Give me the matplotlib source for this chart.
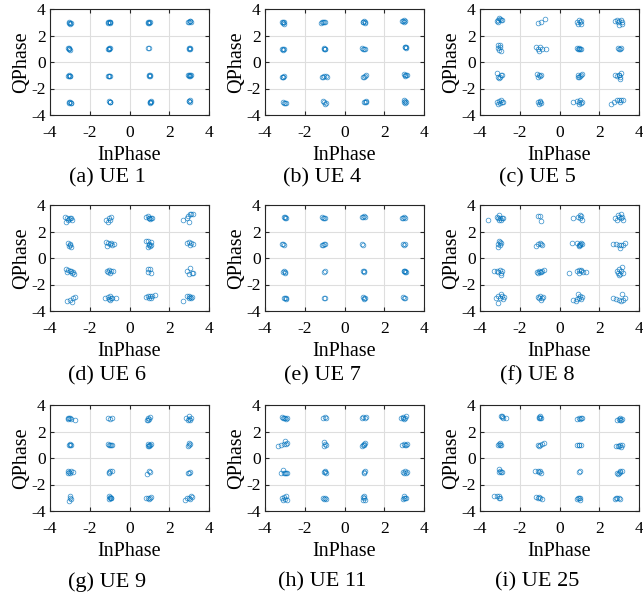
import matplotlib
matplotlib.use("Agg")
import matplotlib.pyplot as plt
import numpy as np

plt.rcParams['font.family'] = ['Liberation Serif', 'DejaVu Serif']
plt.rcParams['axes.unicode_minus'] = False

# 16-QAM ideal points, rows top to bottom, columns left to right
levels_q = [3, 1, -1, -3]
levels_i = [-3, -1, 1, 3]

# offsets (dI, dQ) of each received symbol from its ideal point
ue1 = [
    [(0, -0.05), (0.04, -0.02), (-0.04, -0.06), (0.02, -0.1), (-0.02, 0.0)],
    [(-0.05, 0.02), (0.0, 0.0), (-0.1, 0.0), (0.03, -0.02), (-0.06, -0.04), (0.02, 0.03)],
    [(-0.05, 0.0), (0.0, 0.02), (-0.08, -0.02), (-0.02, -0.05), (0.03, 0.03)],
    [(0.0, 0.05), (0.05, 0.08), (-0.04, 0.03), (0.08, 0.02), (0.02, 0.1)],
    [(-0.08, 0.02), (-0.02, -0.04), (0.0, -0.08), (-0.06, 0.05), (-0.03, 0.0)],
    [(-0.05, 0.0), (0.0, 0.02), (-0.08, -0.03), (-0.02, -0.05), (-0.04, 0.05)],
    [(-0.05, 0.05), (-0.03, 0.07)],
    [(0.0, 0.0), (0.03, -0.03), (-0.03, 0.02), (0.02, 0.04)],
    [(-0.05, -0.05), (0.0, -0.08), (-0.1, -0.02), (-0.03, 0.0), (0.02, -0.03)],
    [(-0.05, -0.05), (0.0, -0.02), (-0.08, -0.06), (-0.02, -0.08)],
    [(0.0, 0.0), (0.05, 0.02), (-0.04, -0.02), (0.02, -0.05)],
    [(0.0, 0.0), (0.05, -0.03), (-0.05, 0.02), (0.02, 0.05), (0.08, 0.0), (-0.02, -0.06)],
    [(0.0, -0.05), (0.05, -0.1), (-0.06, -0.03), (0.08, -0.08), (-0.02, -0.12)],
    [(0.0, 0.0), (-0.05, 0.03), (0.04, -0.02), (0.0, -0.05)],
    [(0.05, 0.0), (0.1, -0.03), (0.02, -0.05), (0.08, 0.03), (0.04, -0.08)],
    [(0.0, 0.05), (0.03, 0.0), (-0.03, 0.08), (0.05, 0.1)],
]

ue4 = [
    [(-0.1, 0.05), (-0.05, -0.1), (-0.15, 0.0), (-0.08, -0.05), (-0.02, 0.02)],
    [(-0.1, 0.0), (-0.05, 0.02), (-0.2, -0.05), (-0.15, 0.03), (0.0, 0.0)],
    [(-0.05, 0.05), (0.0, 0.1), (-0.08, 0.0), (0.05, -0.05), (0.02, 0.02)],
    [(-0.05, 0.1), (0.0, 0.05), (-0.1, 0.12), (0.05, 0.1), (0.0, 0.15)],
    [(-0.1, -0.05), (-0.05, -0.05), (-0.15, -0.03), (-0.08, -0.1)],
    [(-0.02, 0.0), (0.02, -0.05), (-0.05, 0.05), (0.0, -0.03)],
    [(-0.05, 0.0), (-0.1, 0.02), (0.02, 0.0), (-0.03, -0.03)],
    [(0.05, 0.1), (0.08, 0.05), (0.02, 0.15), (0.1, 0.12)],
    [(-0.1, -0.1), (-0.05, -0.05), (-0.15, -0.12), (-0.08, -0.15)],
    [(-0.1, -0.1), (0.05, -0.05), (-0.05, -0.08), (0.1, -0.1), (-0.15, -0.12)],
    [(0.05, -0.05), (0.0, -0.1), (0.1, 0.0), (-0.05, -0.12)],
    [(0.05, 0.05), (0.1, 0.0), (0.0, 0.1), (0.05, -0.05), (0.12, 0.05)],
    [(0.0, -0.1), (-0.1, -0.05), (0.05, -0.12), (-0.05, -0.1)],
    [(-0.02, -0.05), (-0.08, 0.02), (0.05, -0.1), (0.0, -0.15)],
    [(0.05, 0.0), (0.1, -0.05), (0.0, -0.05), (0.08, 0.03)],
    [(0.05, 0.05), (0.0, 0.1), (0.1, 0.0), (0.05, -0.1), (0.0, 0.0)],
]

ue5 = [
    [(-0.1, 0.2), (0.0, 0.25), (-0.15, 0.1), (0.05, 0.15), (-0.05, 0.3), (0.1, 0.2), (-0.1, 0.05)],
    [(-0.1, -0.05), (0.05, 0.0), (0.25, 0.25)],
    [(-0.1, 0.0), (0.0, 0.2), (0.1, 0.1), (-0.05, -0.1), (0.1, -0.1), (0.05, 0.05)],
    [(-0.2, 0.1), (-0.1, 0.15), (0.0, 0.1), (0.15, 0.05), (0.0, -0.2), (0.1, 0.15), (-0.05, 0.0), (0.15, -0.1)],
    [(-0.1, 0.3), (0.0, 0.25), (-0.1, 0.05), (0.0, 0.1), (0.05, -0.2), (-0.05, -0.1)],
    [(-0.2, 0.1), (-0.1, 0.0), (0.1, 0.0), (0.3, 0.0), (-0.05, -0.15), (0.0, 0.1)],
    [(-0.1, 0.05), (0.0, 0.05), (0.1, 0.0), (0.05, -0.05), (-0.05, 0.0), (0.0, -0.05)],
    [(-0.05, 0.05), (0.05, 0.0), (0.1, 0.05), (0.0, -0.05)],
    [(-0.15, 0.15), (-0.1, -0.1), (0.0, -0.15), (0.05, 0.0), (-0.05, -0.2), (0.1, 0.05)],
    [(-0.15, 0.1), (-0.05, 0.05), (0.0, -0.05), (-0.1, -0.1), (0.05, 0.0)],
    [(-0.05, 0.0), (0.0, -0.1), (0.1, 0.05), (0.05, -0.05), (-0.05, -0.1), (0.15, 0.1)],
    [(-0.2, 0.0), (-0.1, -0.05), (0.0, 0.05), (0.05, -0.15), (0.1, 0.15), (0.05, -0.3), (0.0, 0.0)],
    [(-0.15, -0.05), (-0.05, 0.05), (0.0, -0.1), (0.1, 0.0), (-0.1, -0.2), (0.05, 0.15), (0.15, -0.05)],
    [(-0.1, -0.05), (0.0, 0.05), (0.05, -0.1), (-0.05, -0.15), (0.0, 0.0)],
    [(-0.3, 0.0), (-0.1, 0.05), (0.0, -0.05), (0.05, 0.1), (0.15, 0.0), (0.0, -0.15), (0.1, -0.1)],
    [(-0.4, -0.15), (-0.25, -0.05), (-0.1, 0.1), (0.0, 0.15), (0.1, 0.1), (0.2, 0.15), (0.05, 0.0)],
]

ue6 = [
    [(-0.25, 0.1), (-0.15, 0.0), (-0.05, -0.05), (0.05, 0.0), (0.1, -0.1), (-0.2, -0.25), (0.0, 0.05), (-0.1, -0.15)],
    [(-0.2, -0.1), (-0.05, 0.0), (0.0, -0.15), (-0.1, -0.25), (0.05, 0.1)],
    [(-0.15, 0.1), (0.0, 0.05), (0.1, 0.0), (0.05, -0.05), (0.15, 0.0), (0.0, 0.0), (-0.05, 0.15)],
    [(-0.3, -0.1), (-0.05, 0.15), (0.05, 0.3), (0.1, 0.35), (0.2, 0.35), (0.0, -0.25), (-0.1, 0.05)],
    [(-0.1, 0.1), (0.0, 0.0), (-0.05, -0.1), (0.05, -0.15), (0.0, 0.05)],
    [(-0.2, 0.2), (-0.1, 0.1), (0.0, 0.05), (0.1, 0.0), (0.2, 0.05), (-0.15, -0.1), (0.05, 0.15)],
    [(-0.15, 0.3), (-0.05, 0.25), (0.0, 0.05), (0.1, 0.2), (0.05, -0.1), (-0.05, -0.2), (0.1, 0.0), (0.0, -0.05)],
    [(-0.1, 0.1), (0.0, 0.2), (0.1, 0.1), (0.2, 0.05), (0.05, 0.0)],
    [(-0.2, 0.15), (-0.1, 0.1), (0.0, 0.0), (0.1, -0.1), (0.2, -0.2), (-0.15, -0.05), (0.05, 0.05), (0.15, -0.05)],
    [(-0.15, 0.0), (-0.05, 0.1), (0.05, 0.0), (0.15, 0.05), (0.0, -0.1), (-0.1, -0.05)],
    [(-0.05, 0.2), (0.05, 0.15), (0.1, -0.1), (-0.05, -0.05)],
    [(-0.1, 0.05), (0.05, 0.25), (0.15, -0.1), (0.0, -0.2), (0.2, -0.1)],
    [(0.0, -0.2), (0.1, -0.3), (0.15, 0.0), (0.25, 0.05), (-0.15, -0.25)],
    [(-0.25, 0.0), (-0.1, 0.05), (0.0, 0.1), (0.1, -0.05), (0.05, 0.0), (-0.05, -0.1), (0.3, -0.05), (0.0, -0.15)],
    [(-0.15, 0.05), (-0.05, 0.15), (0.05, 0.1), (0.15, 0.1), (0.3, 0.2), (0.0, 0.0), (0.1, -0.05)],
    [(-0.3, -0.25), (-0.1, 0.1), (0.0, 0.15), (0.05, 0.05), (0.1, -0.05), (0.0, -0.05), (0.15, 0.05)],
]

ue7 = [
    [(0.0, 0.07), (0.05, 0.05), (-0.05, 0.1), (0.0, 0.02)],
    [(-0.15, 0.1), (-0.05, 0.05), (-0.1, 0.0), (0.0, 0.03)],
    [(-0.1, 0.12), (0.0, 0.15), (-0.05, 0.08), (0.05, 0.12)],
    [(-0.1, 0.05), (0.0, 0.1), (-0.05, 0.0), (0.05, 0.05)],
    [(-0.1, 0.03), (-0.05, 0.0), (-0.12, 0.05)],
    [(-0.15, 0.0), (-0.05, 0.05), (-0.1, 0.0), (0.0, 0.05)],
    [(-0.1, 0.05), (-0.05, 0.0)],
    [(-0.05, 0.05), (0.0, 0.0), (0.05, 0.03)],
    [(-0.05, 0.0), (0.0, -0.1), (-0.1, -0.05), (0.02, -0.02)],
    [(-0.05, -0.02), (0.0, 0.0)],
    [(-0.05, 0.05), (0.0, 0.0), (-0.03, -0.05)],
    [(0.0, 0.0), (0.05, -0.05), (0.1, -0.03), (-0.03, 0.02), (0.05, 0.03)],
    [(0.0, 0.0), (0.05, -0.1), (-0.05, -0.05), (0.08, -0.02)],
    [(-0.05, 0.0), (0.0, -0.03)],
    [(-0.05, 0.05), (0.0, -0.05), (0.05, 0.0), (-0.02, -0.1)],
    [(0.0, 0.0), (0.05, -0.05), (-0.05, 0.02)],
]

ue8 = [
    [(-0.6, -0.1), (-0.15, 0.1), (-0.05, 0.25), (0.0, 0.05), (0.1, 0.0), (0.05, -0.1), (-0.1, 0.0), (0.15, 0.05), (-0.05, -0.15)],
    [(-0.1, 0.15), (0.0, 0.15), (0.05, -0.2)],
    [(-0.3, 0.0), (-0.05, 0.1), (0.05, 0.25), (0.1, 0.15), (0.15, -0.15), (0.05, 0.0)],
    [(-0.2, 0.0), (-0.05, 0.25), (0.1, 0.3), (0.0, 0.1), (0.1, 0.05), (0.2, -0.1), (-0.1, -0.1), (0.15, 0.1)],
    [(-0.05, 0.3), (0.0, 0.2), (-0.1, 0.05), (0.0, 0.0), (-0.1, -0.2), (0.05, 0.1)],
    [(-0.2, -0.1), (-0.1, 0.05), (0.05, 0.05), (0.1, 0.0), (0.0, 0.1)],
    [(-0.35, 0.1), (-0.1, 0.15), (0.0, 0.0), (0.05, 0.05), (0.1, 0.1), (0.0, -0.1), (0.15, 0.05), (0.05, -0.05)],
    [(-0.3, 0.05), (-0.15, 0.05), (0.0, 0.0), (0.1, -0.05), (0.2, 0.0), (0.3, 0.15), (0.05, -0.25)],
    [(-0.3, 0.0), (-0.15, 0.0), (0.0, 0.1), (0.1, 0.05), (0.05, -0.15), (0.05, -0.3), (-0.1, -0.05)],
    [(-0.15, -0.05), (-0.05, 0.0), (0.0, -0.05), (0.1, 0.0), (0.2, 0.1), (-0.1, -0.1), (0.05, -0.02)],
    [(-0.5, -0.1), (-0.1, 0.05), (0.0, 0.1), (0.1, 0.0), (0.2, -0.05), (0.35, -0.05), (0.0, -0.1), (0.1, 0.1)],
    [(-0.1, 0.0), (0.0, 0.2), (0.15, 0.35), (0.1, 0.05), (0.05, -0.2), (0.2, -0.1), (0.0, -0.3), (-0.05, -0.1)],
    [(-0.2, 0.0), (-0.1, 0.15), (0.05, 0.3), (0.1, 0.1), (0.15, -0.1), (0.0, -0.05), (-0.1, -0.4), (0.2, 0.05)],
    [(-0.1, 0.05), (0.0, 0.1), (0.1, -0.05), (0.05, -0.15), (-0.05, -0.05), (0.15, 0.05)],
    [(-0.3, -0.2), (-0.15, -0.25), (-0.05, 0.3), (0.05, 0.1), (0.15, 0.05), (0.1, -0.1), (0.0, -0.05), (-0.1, -0.1)],
    [(-0.3, -0.05), (-0.15, -0.1), (0.0, -0.2), (0.1, -0.25), (0.2, -0.2), (0.15, 0.3), (0.3, 0.0)],
]

ue9 = [
    [(-0.1, 0.05), (-0.05, 0.0), (0.0, 0.05), (0.05, -0.02), (0.25, -0.1), (-0.08, -0.05)],
    [(-0.1, 0.0), (0.0, -0.05), (0.1, 0.02)],
    [(-0.1, -0.1), (-0.05, 0.0), (0.05, 0.1), (0.0, -0.05), (-0.05, -0.15)],
    [(-0.15, 0.05), (0.0, 0.15), (0.05, -0.1), (0.1, 0.0), (0.0, -0.05), (-0.05, -0.15)],
    [(0.0, 0.05), (-0.05, 0.0), (0.05, 0.0), (0.0, -0.05)],
    [(-0.1, 0.05), (0.0, 0.0), (-0.05, -0.05), (0.1, -0.05), (0.05, 0.0)],
    [(-0.05, 0.05), (0.05, 0.0), (0.0, -0.1), (0.1, 0.05), (-0.05, -0.1), (0.0, 0.0)],
    [(0.0, 0.1), (0.05, 0.05), (-0.05, -0.1), (0.0, 0.0)],
    [(-0.1, 0.05), (-0.05, -0.05), (0.0, -0.1), (0.05, 0.0), (0.15, -0.05), (-0.1, -0.1)],
    [(-0.05, -0.05), (0.0, 0.0), (0.1, 0.0), (-0.05, -0.1)],
    [(-0.1, -0.2), (0.05, -0.05), (0.0, 0.0)],
    [(-0.05, -0.1), (0.05, -0.05), (0.0, -0.1)],
    [(0.0, 0.1), (0.05, -0.1), (-0.05, -0.25), (0.0, -0.05)],
    [(-0.05, 0.15), (0.0, 0.05), (0.05, -0.05), (-0.05, -0.1), (0.0, -0.05), (0.05, 0.0)],
    [(-0.15, -0.05), (-0.05, -0.05), (0.05, 0.0), (0.1, 0.05), (0.0, -0.1)],
    [(-0.2, -0.15), (-0.1, -0.05), (0.0, 0.0), (0.1, 0.1), (0.15, 0.05), (0.05, -0.1)],
]

ue11 = [
    [(-0.15, 0.12), (-0.05, 0.05), (0.0, 0.0), (0.05, -0.05), (-0.1, 0.0), (0.1, 0.03)],
    [(-0.1, 0.05), (0.0, 0.1), (0.05, 0.05)],
    [(-0.1, 0.0), (-0.05, 0.1), (0.05, 0.05), (0.1, 0.1)],
    [(-0.15, 0.0), (-0.05, 0.05), (0.05, 0.05), (0.1, 0.15), (0.0, -0.02), (-0.08, 0.08)],
    [(-0.35, -0.1), (-0.2, 0.0), (-0.05, 0.05), (0.05, 0.05), (0.1, 0.1), (0.0, 0.25)],
    [(-0.05, 0.2), (0.0, 0.05), (0.05, -0.05), (-0.05, -0.1)],
    [(-0.1, -0.1), (-0.05, 0.0), (0.0, 0.05), (0.05, 0.1), (0.0, 0.0)],
    [(-0.1, 0.0), (0.0, 0.05), (0.1, 0.0), (0.15, 0.05), (0.05, -0.05)],
    [(-0.2, -0.1), (-0.1, 0.1), (0.0, -0.1), (0.05, -0.15), (0.1, -0.1), (-0.05, -0.1)],
    [(-0.05, -0.05), (0.0, 0.0), (0.05, -0.1), (0.0, -0.05)],
    [(0.0, -0.05), (0.03, 0.0), (0.0, -0.1)],
    [(-0.05, -0.05), (0.05, 0.0), (0.1, -0.1), (0.0, -0.15), (0.12, -0.05)],
    [(-0.15, -0.05), (-0.05, 0.05), (0.0, -0.1), (0.05, 0.1), (0.1, -0.15), (-0.1, -0.15)],
    [(-0.1, -0.05), (0.0, 0.0), (0.05, -0.1), (-0.05, -0.1)],
    [(-0.05, 0.05), (0.0, -0.05), (0.05, -0.15), (-0.05, -0.2), (0.0, 0.1)],
    [(0.0, 0.1), (0.05, 0.0), (-0.05, -0.1), (0.1, -0.05), (0.0, -0.05)],
]

ue25 = [
    [(0.05, 0.2), (0.1, 0.1), (0.15, 0.05), (0.3, 0.05), (0.1, 0.15)],
    [(-0.05, 0.1), (0.0, 0.0), (0.05, 0.05), (0.0, 0.15), (-0.05, 0.0)],
    [(-0.1, -0.05), (0.0, 0.0), (0.1, 0.0), (0.15, 0.05), (0.05, -0.05)],
    [(-0.1, -0.1), (0.0, -0.05), (0.05, 0.0), (0.1, -0.1), (0.15, -0.05), (0.05, -0.15)],
    [(-0.05, 0.05), (0.0, 0.1), (0.05, 0.0), (-0.1, 0.0), (0.0, -0.05)],
    [(-0.1, -0.05), (0.0, 0.0), (0.1, 0.05), (0.2, 0.1), (-0.05, -0.08)],
    [(-0.1, -0.05), (0.0, 0.0), (0.1, 0.0), (0.0, -0.05)],
    [(-0.15, -0.1), (-0.05, -0.1), (0.05, 0.0), (0.1, -0.15), (0.15, -0.05), (0.0, -0.1)],
    [(-0.05, 0.2), (0.0, 0.05), (0.05, -0.05), (0.1, -0.05), (-0.05, -0.05)],
    [(-0.25, 0.0), (-0.1, 0.05), (0.0, 0.0), (0.05, -0.1), (-0.05, -0.05)],
    [(0.0, -0.05), (0.02, 0.0)],
    [(-0.1, -0.15), (0.0, -0.1), (0.05, 0.0), (0.15, 0.05), (-0.05, -0.2), (0.05, -0.05)],
    [(-0.3, 0.1), (-0.15, 0.15), (-0.05, 0.0), (0.0, -0.05), (-0.05, 0.15)],
    [(-0.2, 0.05), (-0.1, 0.0), (0.0, -0.05), (0.1, -0.1), (-0.05, 0.05)],
    [(-0.1, -0.1), (0.0, 0.0), (0.05, -0.05), (-0.05, -0.05), (0.02, -0.15)],
    [(-0.2, -0.1), (-0.1, 0.0), (0.0, -0.05), (0.05, -0.1), (-0.15, -0.05)],
]

panels = [ue1, ue4, ue5, ue6, ue7, ue8, ue9, ue11, ue25]
captions = ['(a) UE 1', '(b) UE 4', '(c) UE 5',
            '(d) UE 6', '(e) UE 7', '(f) UE 8',
            '(g) UE 9', '(h) UE 11', '(i) UE 25']

blue = (0.0, 0.447, 0.741)
W, H = 643, 593
col_left = [50, 265, 480]
col_mid = [107.5, 322.5, 537]
row_top = [9, 205, 405]
row_cap = [178, 376, 582]
ax_w, ax_h = 159, 106

fig = plt.figure(figsize=(W / 100, H / 100), dpi=100)

for k, pts in enumerate(panels):
    r, c = divmod(k, 3)
    ax = fig.add_axes([col_left[c] / W, 1 - (row_top[r] + ax_h) / H, ax_w / W, ax_h / H])
    xs, ys = [], []
    for n, cluster in enumerate(pts):
        qi, ii = divmod(n, 4)
        for dx, dy in cluster:
            xs.append(levels_i[ii] + dx)
            ys.append(levels_q[qi] + dy)
    ax.plot(xs, ys, 'o', ms=3.4, mfc='none', mec=blue, mew=0.5, alpha=0.8)
    ax.set_xlim(-4, 4)
    ax.set_ylim(-4, 4)
    ax.set_xticks([-4, -2, 0, 2, 4])
    ax.set_yticks([-4, -2, 0, 2, 4])
    ax.grid(True, color='#dedede', linewidth=0.8)
    ax.set_axisbelow(True)
    ax.tick_params(direction='in', length=3, top=True, right=True,
                   labelsize=12.5, color='#262626')
    ax.tick_params(axis='x', pad=7)
    ax.tick_params(axis='y', pad=3)
    for s in ax.spines.values():
        s.set_color('#262626')
        s.set_linewidth(0.8)
    ax.set_xlabel('InPhase', fontsize=14.5, labelpad=4)
    ax.set_ylabel('QPhase', fontsize=14.5, labelpad=0)
    fig.text(col_mid[c] / W, 1 - row_cap[r] / H, captions[k],
             fontsize=16, ha='center', va='center')

fig.savefig('out.png', dpi=100)
